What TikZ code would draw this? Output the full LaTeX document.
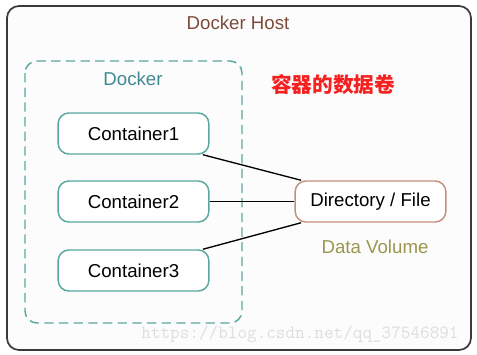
\documentclass[tikz,border=0pt]{standalone}
\usepackage{fontspec}
\setmainfont{Liberation Sans}
\newfontfamily\cjk{Noto Sans CJK SC}
\usetikzlibrary{positioning}
\definecolor{hostline}{HTML}{3A3A3A}
\definecolor{hostbrown}{HTML}{7D4B3B}
\definecolor{dkteal}{HTML}{5AA6A0}
\definecolor{tealtext}{HTML}{3F8A92}
\definecolor{dirbrown}{HTML}{C4907A}
\definecolor{vololive}{HTML}{9A9650}
\definecolor{notered}{HTML}{F52020}
\definecolor{paper}{HTML}{FCFCFC}

\tikzset{
  ctbox/.style={draw=dkteal, line width=1.1pt, rounded corners=8pt, fill=white,
    minimum width=113pt, minimum height=30.75pt, font=\fontsize{14}{16}\selectfont},
  dirbox/.style={draw=dirbrown, line width=1.1pt, rounded corners=8pt, fill=white,
    minimum width=113pt, minimum height=30.75pt, font=\fontsize{14}{16}\selectfont},
  link/.style={black, line width=1pt}
}

\begin{document}
\begin{tikzpicture}[x=0.75pt, y=-0.75pt]

% Background
\useasboundingbox (0,0) rectangle (477,354);
\fill[white] (0,0) rectangle (477,354);
\draw[hostline, fill=paper, line width=1.3pt, rounded corners=9pt] (7,6) rectangle (471,350);

% Title
\node[text=hostbrown, font=\fontsize{14}{16}\selectfont] (host) at (238,23) {Docker Host};

% Docker area
\draw[dkteal, line width=1.1pt, dash pattern=on 7pt off 4pt, rounded corners=9pt] (25,61) rectangle (242,323);
\node[text=tealtext, font=\fontsize{14}{16}\selectfont] (docker) at (133,79) {Docker};

% Label
\node[text=notered, font=\cjk\bfseries\fontsize{15.5}{18}\selectfont] (title) at (333,85) {容器的数据卷};

% Containers
\node[ctbox] (c1) at (133.5,133.5) {Container1};
\node[ctbox] (c2) at (133.5,201.5) {Container2};
\node[ctbox] (c3) at (133.5,270.5) {Container3};

% Volume
\node[dirbox] (dir) at (370.5,201.5) {Directory / File};
\node[text=vololive, font=\fontsize{14}{16}\selectfont] (vol) at (375,247) {Data Volume};

% Links
\draw[link] ([xshift=-5pt]c1.south east) -- ([xshift=5pt]dir.north west);
\draw[link] (c2.east) -- (dir.west);
\draw[link] ([xshift=-5pt]c3.north east) -- ([xshift=5pt]dir.south west);

% Watermark
\node[text=black!13, font=\ttfamily\fontsize{14}{16}\selectfont] (wm) at (300,334) {https://blog.csdn.net/qq\_37546891};

\end{tikzpicture}
\end{document}
